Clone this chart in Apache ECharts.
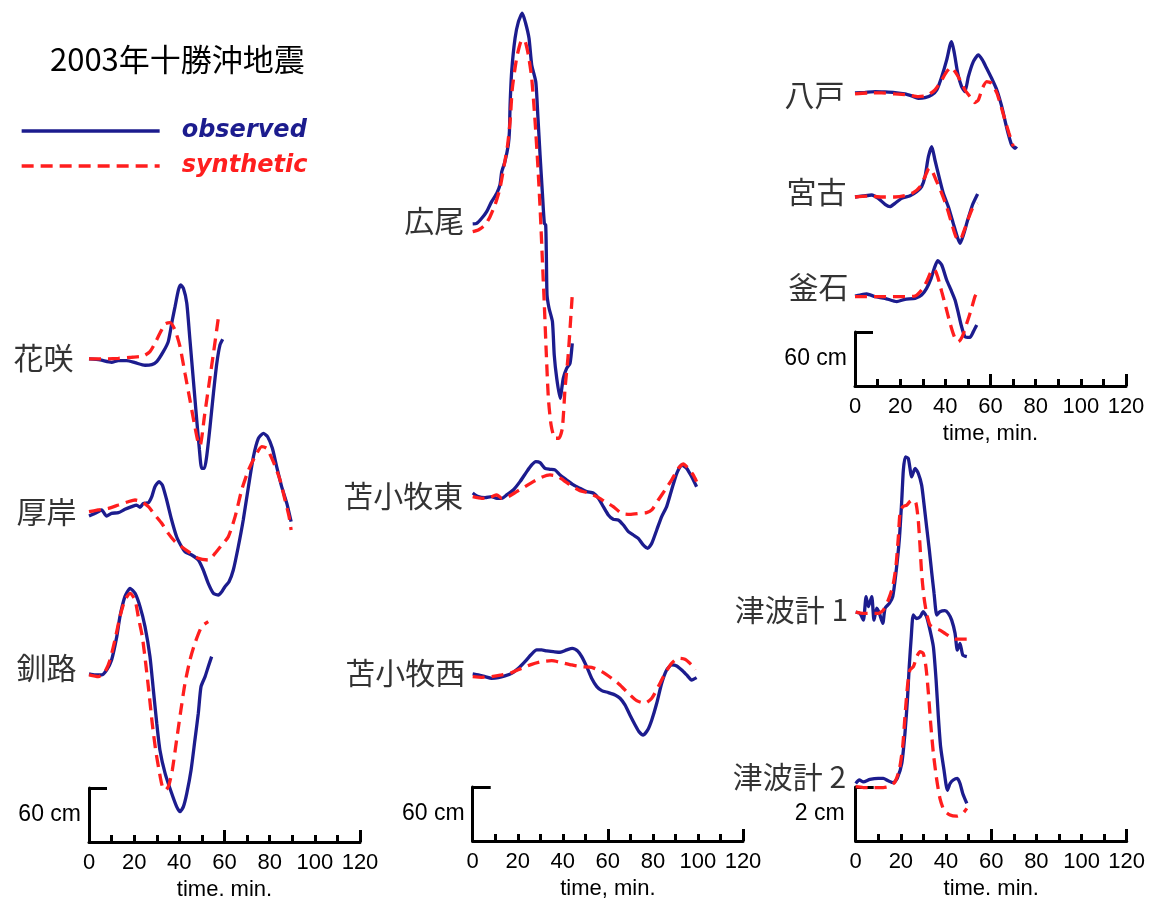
<!DOCTYPE html>
<html>
<head>
<meta charset="utf-8">
<script src="https://cdn.jsdelivr.net/npm/echarts@6/dist/echarts.min.js"></script>
<style>
  html, body { margin: 0; padding: 0; background: #ffffff; }
  #chart { width: 1149px; height: 903px; }
</style>
</head>
<body>
<div id="chart"></div>
<script>
// 2003 Tokachi-oki tsunami: observed vs. synthetic waveforms.
// Each record is a list of [time (min), sea-level change (cm)] pairs.

// --- 花咲 (Hanasaki)
const hanasakiObs = [[0,0],[4.9,-1.1],[10,-3.7],[13,-1.9],[16.7,-1.9],[20.4,-4.1],[24.8,-7],[27.8,-6.3],[30,-3],[32.9,8.1],[35.1,19.3],[36.9,43.3],[38.1,58.1],[39.6,76.7],[40.6,82.2],[41.8,78.5],[43.3,61.9],[44.7,21.1],[46.2,-23.3],[47.7,-67.8],[48.9,-101.1],[49.9,-121.5],[51.1,-121.5],[52.1,-108.5],[53.6,-75.2],[55.1,-38.1],[56.6,-4.8],[58,15.6],[59.2,21.9]];
const hanasakiSyn = [[0,0],[7.1,0],[13,0.7],[18.9,1.9],[24.1,3.3],[27,8.1],[29.2,17.4],[31.4,28.5],[33.7,38.9],[35.9,40.4],[38.1,32.2],[40.3,13.7],[42.5,-15.9],[44.7,-45.6],[46.6,-71.5],[48.4,-93.7],[49.2,-96],[51.2,-62],[53.2,-27],[55.2,8],[57.3,46]];

// --- 厚岸 (Akkeshi)
const akkeshiObs = [[0,0],[2.7,3],[5.6,6.7],[7.8,0],[10,3],[13,3.7],[15.9,7.4],[18.9,10.4],[21.1,12.2],[22.6,9.6],[24.1,14.1],[26.3,14.8],[27.8,21.5],[29.2,32.6],[31,38.1],[32.5,34.4],[34.4,17.8],[36.6,-4.4],[38.8,-23],[41,-34.1],[42.5,-39.6],[45.5,-43.3],[48.4,-48.9],[50.6,-60],[52.8,-74.8],[55.1,-85.9],[57.3,-87.8],[58.8,-84.1],[60.2,-78.5],[62,-73],[63.9,-60],[66.1,-34.1],[68.3,-4.4],[70.6,32.6],[72.8,65.9],[75,86.3],[77.2,91.9],[79.1,88.1],[81.2,75.2],[83.1,54.8],[85.3,32.6],[87.6,14.1],[89.5,-6.3]];
const akkeshiSyn = [[0,4.8],[4.1,6.7],[8.6,8.5],[13,12.2],[17.4,15.9],[20.4,17.8],[23.3,15.9],[26.3,10.4],[29.2,1.1],[32.2,-8.1],[35.1,-19.3],[38.1,-28.5],[41,-34.1],[44,-39.6],[48.4,-47],[52.8,-48.9],[55.8,-41.5],[58.8,-32.2],[61.7,-23],[64.7,-0.7],[67.6,28.9],[70.6,51.1],[73.5,65.9],[76.5,77],[78.7,75.2],[81.6,60.4],[84.6,40],[86.8,17.8],[88.6,-0.7],[89.5,-15.6]];

// --- 釧路 (Kushiro)
const kushiroObs = [[0,0],[2.7,-1.1],[5.6,-1.1],[7.8,4.4],[10,15.6],[12.3,41.5],[13.7,63.7],[15.9,85.9],[18.2,95.2],[20.4,89.6],[22.6,74.8],[24.8,52.6],[27,19.3],[28.5,-17.8],[30,-54.8],[31.4,-84.4],[33.7,-110.4],[36.6,-132.6],[38.8,-147.4],[40.3,-153],[41.8,-147.4],[43.3,-132.6],[45.2,-106.7],[46.9,-73.3],[48.4,-43.7],[49.6,-14.1],[51.4,-3],[52.8,8.1],[54.3,19.3]];
const kushiroSyn = [[0,-1.1],[4.1,-3],[7.1,2.6],[9.3,15.6],[11.5,37.8],[13.7,63.7],[15.9,82.2],[18.2,89.6],[20.4,82.2],[21.8,63.7],[23.6,41.5],[25.1,11.9],[26.6,-21.5],[28,-54.8],[29.5,-84.4],[31,-106.7],[32.5,-125.2],[34,-128.9],[35.4,-123.3],[36.9,-106.7],[38.8,-73.3],[40.7,-40],[42.5,-10.4],[44.7,15.6],[46.9,34.1],[49.9,52.6],[52.8,58.1]];

// --- 広尾 (Hiroo)
const hirooObs = [[0,0],[1.8,0.7],[4,6.3],[6.2,13.7],[8.4,24.8],[10.7,34.1],[12.1,43.3],[12.9,58.1],[14.3,69.3],[15.8,87.8],[16.3,102.6],[16.6,132.2],[17.3,169.3],[18.8,206.3],[20.3,224.8],[22,234.1],[23.5,223],[25,206.3],[26.2,176.7],[28,158.1],[28.9,121.1],[29.9,76.7],[30.9,35.9],[31.8,0.7],[32.4,-1.1],[32.7,-34.4],[33,-78.9],[33.9,-93.7],[35.4,-108.5],[36.2,-145.6],[37.3,-171.5],[38.8,-193.7],[40.2,-171.5],[41.7,-160.4],[43.2,-154.8],[44.2,-132.6]];
const hirooSyn = [[0,-8.5],[2.5,-6.7],[5.5,-1.1],[7.7,8.1],[9.9,21.1],[12.1,39.6],[14,65.6],[15.5,87.8],[16.6,113.7],[17.6,150.7],[19.5,184.1],[21.4,202.6],[22.9,204.4],[24.7,187.8],[26.2,161.9],[27.7,113.7],[28.9,65.6],[30,13.7],[30.9,-38.1],[31.8,-90],[32.7,-145.6],[33.6,-193.7],[34.8,-223.3],[36.5,-238.1],[38.3,-238.1],[39.8,-227],[41,-182.6],[42.4,-145.6],[44.2,-78.9]];

// --- 苫小牧東 (Tomakomai east)
const tomaEastObs = [[0,0],[2.5,-4.1],[5.5,-5.2],[8.4,-4.1],[10.7,-5.9],[12.9,-5.9],[15.1,-2.2],[18,3.3],[21,12.6],[24,23.7],[26.2,31.1],[28,34.8],[29.9,33.7],[32.1,27.4],[34.3,26.3],[36.5,25.6],[38.8,20],[41.7,14.4],[44.7,8.9],[47.6,5.2],[50.6,1.5],[53.5,0],[55.8,-5.9],[58,-15.2],[60.2,-24.4],[62.4,-29.3],[64.6,-30],[66.9,-35.6],[69.1,-43],[71.3,-46.7],[73.5,-50.4],[75.7,-57.8],[77.7,-61.5],[79.5,-55.9],[81.7,-41.1],[83.9,-26.3],[86.1,-15.2],[88.3,3.3],[90.6,21.9],[92.8,31.1],[95,27.4],[97.2,18.1],[99.4,7]];
const tomaEastSyn = [[0,-4.1],[4,-5.9],[7.7,-4.8],[10.7,-2.2],[12.9,-5.9],[15.8,-4.1],[19.5,1.5],[23.2,7],[26.9,12.6],[30.6,17.4],[34.3,20],[37.3,18.9],[40.2,14.4],[44,7.8],[47.6,2.6],[51.3,0],[55.1,-4.1],[58.7,-9.6],[62.4,-15.2],[66.1,-22.6],[69.8,-23.7],[74.3,-22.6],[77.2,-21.9],[79.5,-18.9],[82.4,-7.8],[85.4,3.3],[88.3,14.4],[91.3,27.4],[93.5,32.2],[95.7,27.4],[97.9,20],[99.4,12.6]];

// --- 苫小牧西 (Tomakomai west)
const tomaWestObs = [[0,0],[2.5,-1.1],[5.5,-3],[8.4,-4.8],[11.4,-4.1],[14.3,-2.2],[17.3,0.7],[20.3,6.3],[23.2,13.7],[26.2,22.2],[28.4,26.7],[30.6,26.7],[32.9,25.6],[35.8,24.8],[38.8,24.1],[41.7,26.7],[44.2,28.5],[46.6,25.6],[48.4,19.3],[50.6,8.1],[52.8,-4.8],[55.1,-14.1],[57.3,-18.5],[60.2,-20.7],[63.2,-23.3],[65.4,-27],[67.6,-34.4],[69.8,-45.6],[72.1,-56.7],[73.8,-64.1],[75.7,-67.8],[77.7,-62.2],[79.5,-51.1],[81.7,-32.6],[83.9,-10.4],[86.1,4.4],[88.3,10],[90.6,8.9],[92.8,4.4],[95,-1.1],[97.2,-6.7],[99.4,-4.1]];
const tomaWestSyn = [[0,-3],[4,-3.7],[8.4,-3],[12.9,-1.1],[17.3,1.5],[21.7,6.3],[26.2,10.7],[30.6,13.7],[35.1,14.8],[39.5,12.6],[44,10],[48.4,8.1],[52.8,7.4],[57.3,2.6],[61.7,-4.8],[65.4,-12.2],[69.1,-21.5],[72.8,-29.6],[76.5,-32.6],[79.5,-27],[82.4,-14.1],[85.4,0.7],[88.3,11.9],[91.3,17.4],[94.2,16.3],[97.2,10],[98.7,4.4]];

// --- 八戸 (Hachinohe)
const hachinoheObs = [[0,0],[4.4,0.7],[8.9,1.5],[13.3,1.1],[17.7,0.4],[22.1,-1.1],[25.1,-3.3],[28,-5.9],[31,-5.2],[34,-2.2],[36.2,3.3],[38.4,18.1],[40.6,36.7],[42.1,53.3],[42.8,57],[44,44.1],[45.5,21.9],[47.2,7],[48.7,1.5],[50.2,18.1],[52.4,34.8],[54.6,42.2],[56.4,36.7],[58.3,27.4],[60.5,16.3],[62.8,3.3],[65,-15.2],[66.7,-33.7],[68.2,-48.5],[69.4,-57.8],[70.9,-61.5],[71.6,-59.6]];
const hachinoheSyn = [[0,-1.1],[5.9,0],[11.8,0],[17.7,-1.1],[23.6,-2.2],[28,-4.1],[31.7,-3],[35.4,3.3],[38.4,14.4],[40.6,23.7],[42.5,28.5],[44.3,23.7],[46.5,14.4],[48.7,3.3],[50.9,-4.1],[53.1,-10.7],[54.6,-7.8],[56.4,5.2],[58.3,12.6],[60.5,10.7],[62.8,0],[64.7,-15.2],[66.4,-30],[68.2,-44.8],[70.1,-59.6]];

// --- 宮古 (Miyako)
const miyakoObs = [[0,0],[3.7,1.1],[7.4,2.2],[10.3,-1.5],[13.3,-8.1],[15.5,-10.7],[17.7,-7],[20.7,-1.5],[24.4,1.5],[27.3,5.9],[29.5,11.5],[31,22.6],[32.5,44.8],[34,55.9],[35.4,41.1],[37.2,22.6],[39.1,4.1],[41.3,-10.7],[43.5,-29.3],[45.5,-45.9],[46.5,-51.5],[48,-42.2],[49.9,-25.6],[52,-8.9],[54.3,3.3]];
const miyakoSyn = [[0,0],[5.9,1.1],[11.8,0],[17.7,0],[22.1,1.5],[25.8,4.8],[28.8,11.5],[31,22.6],[32.8,31.9],[34.3,28.1],[36.2,17],[38.4,4.1],[40.6,-10.7],[42.8,-29.3],[44.7,-44.1],[46.5,-47.8],[48.4,-36.7],[50.5,-21.9],[52.4,-10.7],[54.3,-7]];

// --- 釜石 (Kamaishi)
const kamaishiObs = [[0,0],[2.2,1.1],[5.2,2.2],[8.9,-0.7],[13.3,-2.6],[18.5,-6.3],[22.1,-3.7],[26.6,-2.6],[29.5,1.1],[31.7,8.5],[33.7,19.6],[35.1,30.7],[36.6,39.3],[38.4,34.4],[40.6,17.8],[42.5,6.7],[44.3,-4.4],[45.8,-19.3],[47,-32.2],[48.7,-45.2],[50.9,-45.9],[52.4,-39.6],[53.9,-32.2]];
const kamaishiSyn = [[0,-0.7],[3.7,-0.7],[9.6,-0.7],[15.5,-0.7],[22.1,-0.7],[26.6,0],[29.5,6.7],[31.7,15.9],[33.7,27],[35.1,29.6],[36.6,21.5],[38.4,4.8],[40.2,-11.9],[42.1,-30.4],[44,-45.2],[45.8,-50.7],[47.5,-45.2],[49.5,-30.4],[51.4,-15.6],[53.1,-0.7],[53.9,3]];

// --- 津波計 1 / 津波計 2 (offshore pressure gauges)
const gauge1Obs = [[0,0],[1.9,-0.05],[3.4,-0.3],[4.6,0.57],[5.6,0.2],[7.1,0.57],[8.1,-0.3],[9.3,0.14],[10.5,-0.05],[12,-0.42],[13,0.14],[14.9,0.32],[16.4,0.57],[17.8,1.43],[19.3,2.67],[20.4,4.15],[21.1,5.26],[22,5.75],[23.3,5.69],[24.8,5.01],[26.3,5.32],[27.7,5.14],[29.2,4.7],[30.2,4.03],[31.4,3.16],[32.6,2.3],[33.7,1.43],[34.7,0.69],[35.9,-0.11],[37.3,0.01],[39.5,0.05],[41,-0.05],[42.5,-0.3],[44,-0.79],[45,-1.41],[46.2,-1.16],[47.4,-1.59],[49.2,-1.65]];
const gauge1Syn = [[0,0],[3.4,-0.05],[7.1,-0.05],[10,-0.05],[12.2,0.07],[14.4,0.44],[16.4,0.94],[17.8,1.68],[18.9,2.79],[19.6,3.65],[20.8,3.9],[22.6,3.96],[24,4.09],[25.5,4.17],[26.7,4.03],[27.7,3.41],[28.5,2.42],[29.2,1.43],[30.2,0.57],[31.4,-0.05],[32.9,-0.48],[35.1,-0.6],[37.3,-0.67],[39.5,-0.79],[41.8,-0.91],[44,-1],[46.2,-1],[49.2,-1]];
const gauge2Obs = [[0,0.06],[1.6,0.19],[3.4,0.12],[6.3,0.21],[10,0.25],[12.2,0.25],[14.4,0.16],[16.7,0.09],[18.4,0.25],[20.4,0.8],[21.8,1.91],[22.9,3.15],[23.7,4.38],[24.6,5.49],[25.5,6.3],[27,6.17],[28.5,6.23],[29.9,6.42],[31.4,6.23],[32.9,5.74],[34.4,5.12],[35.6,3.89],[36.6,2.53],[37.6,1.42],[39.1,0.56],[40.6,-0.19],[41.8,0.06],[43.2,0.19],[45,0.25],[46.2,0.06],[47.4,-0.31],[49.2,-0.68]];
const gauge2Syn = [[0,-0.06],[3.4,-0.09],[7.9,-0.09],[12.2,-0.09],[15.2,-0.04],[17.4,0.12],[19.3,0.56],[20.8,1.42],[21.8,2.53],[22.9,3.64],[24,4.26],[25.5,4.38],[27,4.75],[28.5,4.94],[29.9,4.88],[31.1,4.38],[32.2,3.4],[33.2,2.28],[34.4,1.17],[35.9,0.19],[37.3,-0.49],[39.1,-0.93],[41.8,-1.11],[44.7,-1.15],[47.4,-1.05],[49.2,-0.86]];

// Tick values and axis text
const timeTicks = [0, 20, 40, 60, 80, 100, 120];
const scaleLabels = ['60 cm', '60 cm', '60 cm', '2 cm'];
const timeNames = ['time. min.', 'time, min.', 'time, min.', 'time. min.'];

// ---------- layout (panels, record offsets, label nudges) ----------
const BLUE = '#1c1c8e';
const RED = '#ff1e1e';
const NUM_FONT = 'Liberation Sans';
const CJK_FONT = 'Noto Sans CJK JP';
const BAR_PX = 54;     // pixel length of the vertical scale bar
const TRACE_W = 3.3;   // record line width
const DASH = [12, 7];  // dash pattern of the synthetic records

// One panel per stack of records; axisY = pixel row of the time axis.
const panels = [
  { left: 89,    axisY: 842, width: 271,   scaleMax: 60, nameGap: 8 },
  { left: 472.7, axisY: 841, width: 270.3, scaleMax: 60, nameGap: 8 },
  { left: 855,   axisY: 386, width: 271,   scaleMax: 60, nameGap: 8 },
  { left: 855.7, axisY: 841, width: 271,   scaleMax: 2,  nameGap: 11 }
];

// Records: panel index, vertical offset of the zero line (axis units), label placement
const records = [
  { name: '花咲',     panel: 0, offset: 536.7, obs: hanasakiObs,   syn: hanasakiSyn,   gap: 15, dy: -1 },
  { name: '厚岸',     panel: 0, offset: 362.2, obs: akkeshiObs,    syn: akkeshiSyn,    gap: 12, dy: -4 },
  { name: '釧路',     panel: 0, offset: 186.7, obs: kushiroObs,    syn: kushiroSyn,    gap: 12, dy: -6 },
  { name: '広尾',     panel: 1, offset: 685.6, obs: hirooObs,      syn: hirooSyn,      gap: 8,  dy: -3 },
  { name: '苫小牧東', panel: 1, offset: 386.7, obs: tomaEastObs,   syn: tomaEastSyn,   gap: 9,  dy: 3 },
  { name: '苫小牧西', panel: 1, offset: 185.6, obs: tomaWestObs,   syn: tomaWestSyn,   gap: 7,  dy: -1 },
  { name: '八戸',     panel: 2, offset: 325.6, obs: hachinoheObs,  syn: hachinoheSyn,  gap: 10, dy: 2 },
  { name: '宮古',     panel: 2, offset: 210,   obs: miyakoObs,     syn: miyakoSyn,     gap: 8,  dy: -5 },
  { name: '釜石',     panel: 2, offset: 100,   obs: kamaishiObs,   syn: kamaishiSyn,   gap: 6,  dy: -9 },
  { name: '津波計 1', panel: 3, offset: 8.48,  obs: gauge1Obs,     syn: gauge1Syn,     gap: 7,  dy: -2 },
  { name: '津波計 2', panel: 3, offset: 2.07,  obs: gauge2Obs,     syn: gauge2Syn,     gap: 9,  dy: -9 }
];

const grids = [], xAxes = [], yAxes = [], series = [];
const blackLine = { color: '#000', width: 3 };

// Per panel: grid 2i holds the visible axes (time axis + scale bar),
// grid 2i+1 spans from the top of the page down to the time axis and carries the records.
panels.forEach((p, i) => {
  const top = p.axisY - BAR_PX;
  const unitPx = BAR_PX / p.scaleMax;
  grids.push({ left: p.left, top: top, width: p.width, height: BAR_PX,
               containLabel: false, outerBoundsMode: 'none' });
  grids.push({ left: p.left, top: 0, width: p.width, height: p.axisY,
               containLabel: false, outerBoundsMode: 'none' });

  // time axis: labels every 20 min, short ticks every 10 min
  xAxes.push({
    type: 'value', gridIndex: 2 * i, position: 'bottom',
    min: timeTicks[0], max: timeTicks[timeTicks.length - 1], interval: timeTicks[1] - timeTicks[0],
    axisLine: { show: true, onZero: false, lineStyle: blackLine },
    axisTick: { show: true, inside: true, length: 7, lineStyle: blackLine },
    minorTick: { show: true, splitNumber: 2, length: 7, lineStyle: blackLine },
    splitLine: { show: false }, minorSplitLine: { show: false },
    axisLabel: { show: true, color: '#000', fontSize: 22, fontFamily: NUM_FONT, margin: 10,
                 showMinLabel: true, showMaxLabel: true, hideOverlap: false },
    name: timeNames[i], nameLocation: 'middle', nameGap: 37,
    nameTextStyle: { color: '#000', fontSize: 22, fontFamily: NUM_FONT }
  });
  // long ticks every hour
  xAxes.push({
    type: 'value', gridIndex: 2 * i, position: 'bottom', offset: 0,
    min: timeTicks[0], max: timeTicks[timeTicks.length - 1], interval: 60,
    axisLine: { show: false, onZero: false },
    axisTick: { show: true, inside: true, length: 12, lineStyle: blackLine },
    axisLabel: { show: false }, splitLine: { show: false }
  });
  // hidden time axis of the record grid
  xAxes.push({
    type: 'value', gridIndex: 2 * i + 1, show: false,
    min: timeTicks[0], max: timeTicks[timeTicks.length - 1]
  });

  // vertical scale bar
  yAxes.push({
    type: 'value', gridIndex: 2 * i, position: 'left',
    min: 0, max: p.scaleMax, interval: p.scaleMax,
    axisLine: { show: true, onZero: false, lineStyle: blackLine },
    axisTick: { show: true, inside: true, length: 18, lineStyle: blackLine },
    axisLabel: { show: false }, splitLine: { show: false },
    name: scaleLabels[i], nameLocation: 'middle', nameRotate: 0, nameGap: p.nameGap,
    nameTextStyle: { color: '#000', fontSize: 23, fontFamily: NUM_FONT, align: 'right', verticalAlign: 'middle' }
  });
  // hidden amplitude axis of the record grid, same units per pixel as the scale bar
  yAxes.push({
    type: 'value', gridIndex: 2 * i + 1, show: false,
    min: 0, max: p.axisY / unitPx
  });
});

function shifted(rec, arr) {
  return arr.map(([t, v]) => [t, rec.offset + v]);
}

records.forEach(rec => {
  const xi = rec.panel * 3 + 2, yi = rec.panel * 2 + 1;
  series.push({
    type: 'line', name: 'observed', xAxisIndex: xi, yAxisIndex: yi,
    data: shifted(rec, rec.obs), symbol: 'none', smooth: 0.2, clip: false,
    lineStyle: { color: BLUE, width: TRACE_W }, itemStyle: { color: BLUE }, z: 2, silent: true
  });
  series.push({
    type: 'line', name: 'synthetic', xAxisIndex: xi, yAxisIndex: yi,
    data: shifted(rec, rec.syn), symbol: 'none', smooth: 0.2, clip: false,
    lineStyle: { color: RED, width: TRACE_W, type: DASH }, itemStyle: { color: RED }, z: 3, silent: true
  });
});

// station names, placed to the left of each record's start
panels.forEach((p, i) => {
  series.push({
    type: 'scatter', name: 'station', xAxisIndex: i * 3 + 2, yAxisIndex: i * 2 + 1,
    symbol: 'circle', symbolSize: 1, clip: false, silent: true,
    itemStyle: { color: 'rgba(0,0,0,0)' },
    data: records.filter(r => r.panel === i).map(r => ({
      value: [0, r.offset], name: r.name,
      label: { show: true, position: 'left', distance: r.gap, offset: [0, r.dy],
               formatter: r.name, color: '#000', fontSize: 30, fontFamily: CJK_FONT }
    }))
  });
});

const chart = echarts.init(document.getElementById('chart'), null, { renderer: 'canvas' });
chart.setOption({
  backgroundColor: '#ffffff',
  animation: false,
  title: {
    text: '2003年十勝沖地震', left: 50, top: 44, padding: 0,
    textStyle: { color: '#000', fontSize: 31, fontWeight: 'normal', fontFamily: CJK_FONT }
  },
  legend: {
    orient: 'vertical', left: 20, top: 119, padding: 0,
    itemWidth: 138, itemHeight: 20, itemGap: 11,
    selectedMode: false,
    itemStyle: { opacity: 0 },
    lineStyle: { width: TRACE_W },
    data: [
      { name: 'observed', textStyle: { color: BLUE } },
      { name: 'synthetic', textStyle: { color: RED } }
    ],
    textStyle: { fontSize: 24, fontWeight: 'bold', fontStyle: 'italic', fontFamily: 'DejaVu Sans',
                 padding: [0, 0, 0, 17] }
  },
  grid: grids,
  xAxis: xAxes,
  yAxis: yAxes,
  series: series
});
</script>
</body>
</html>
